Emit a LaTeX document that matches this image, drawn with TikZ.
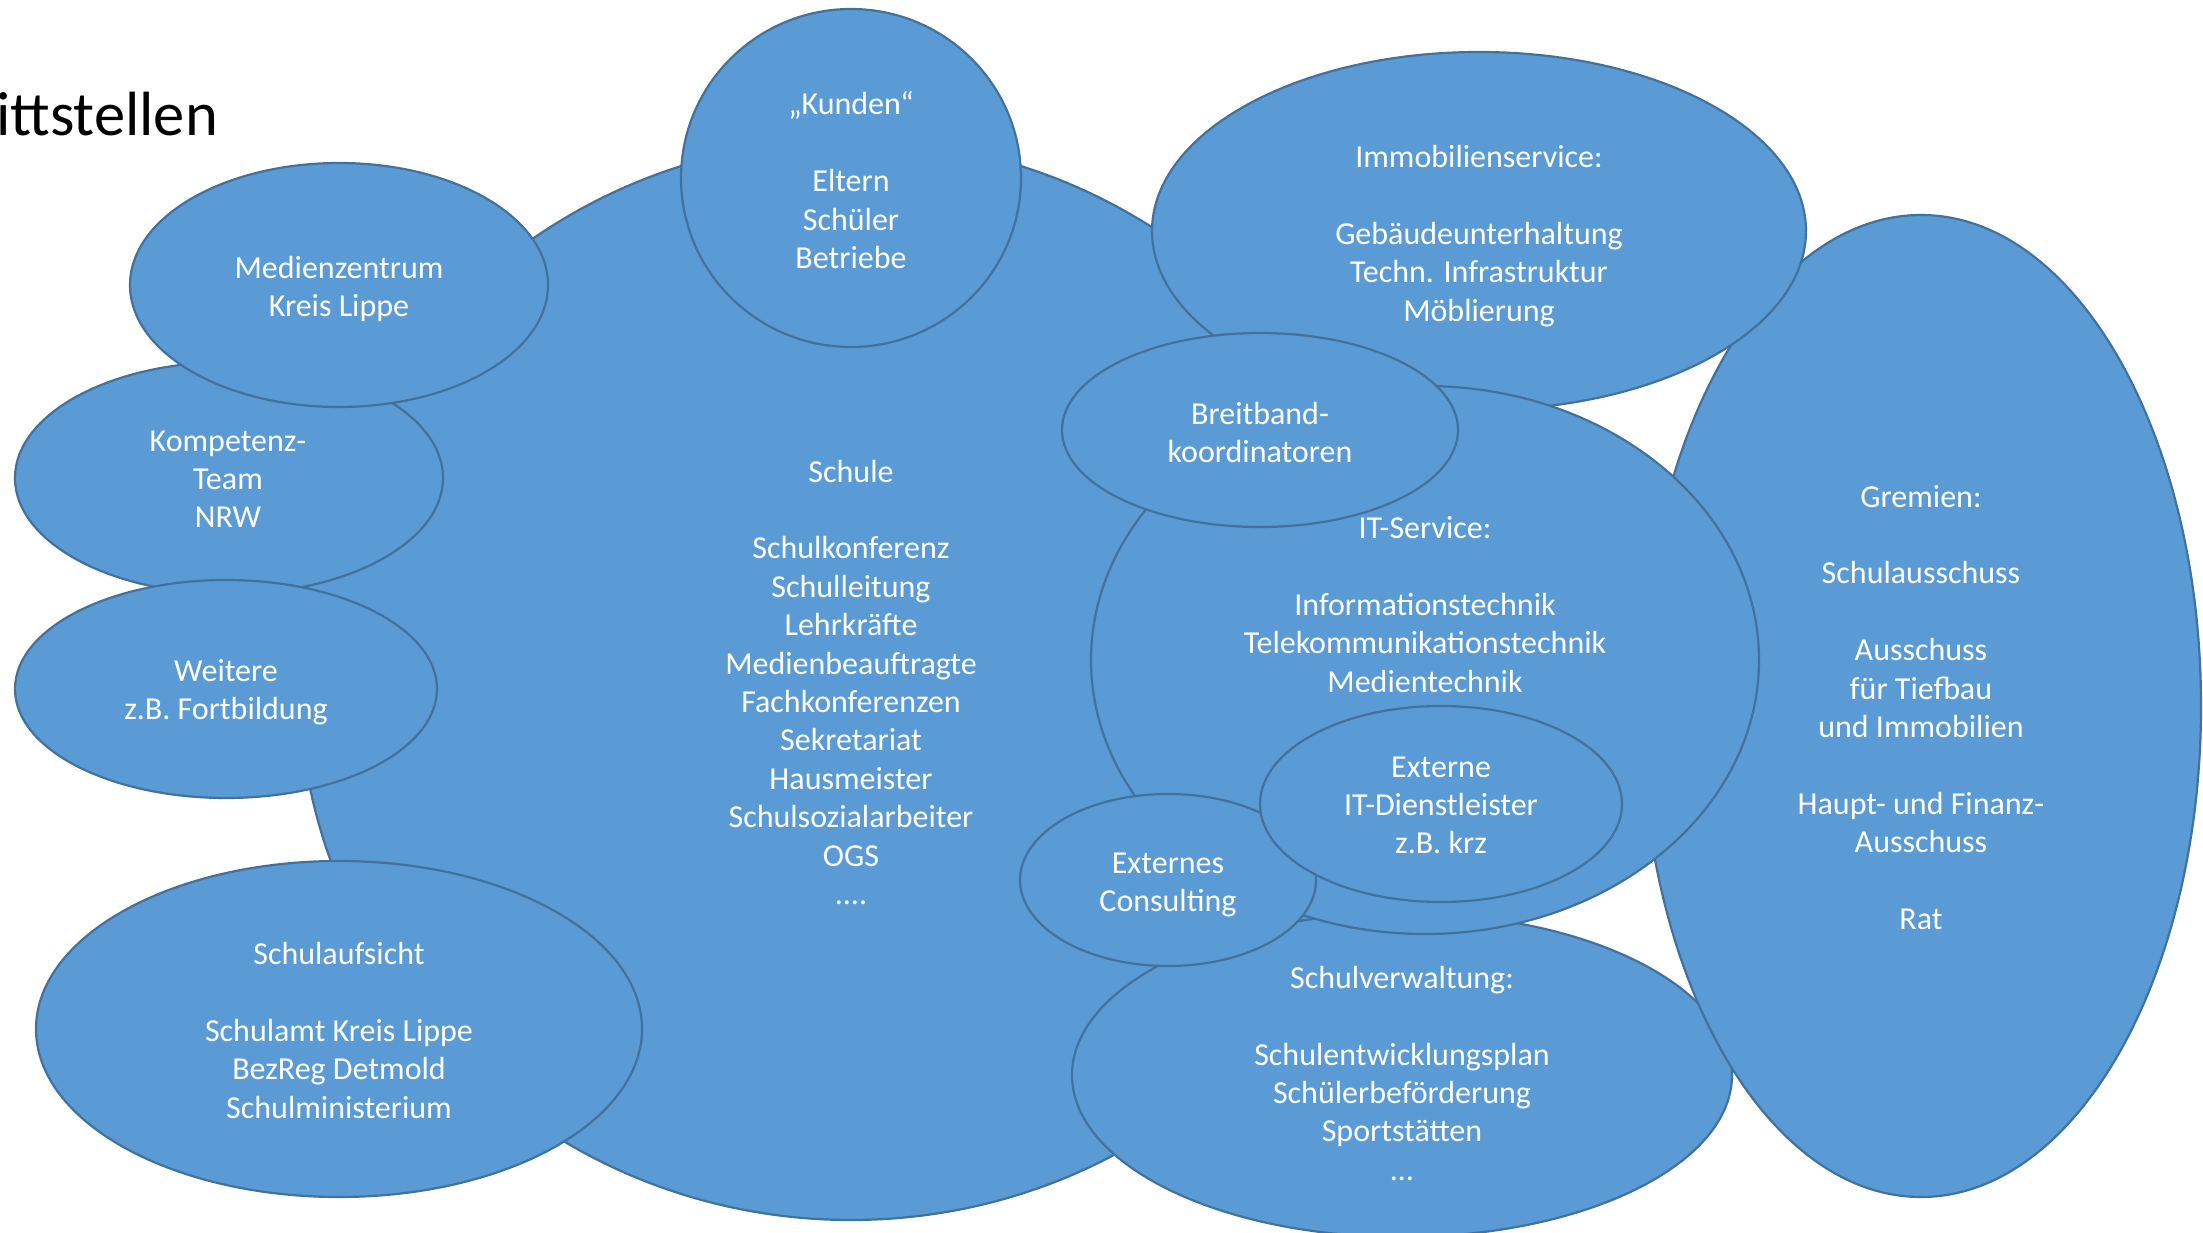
\documentclass[tikz,border=0pt]{standalone}
\usepackage{fontspec}
\setmainfont{Carlito}
\usetikzlibrary{shapes.geometric}
\definecolor{blobfill}{HTML}{5B9BD5}
\definecolor{blobline}{HTML}{41719C}
\begin{document}
\begin{tikzpicture}[x=1pt,y=-1pt,
  blob/.style={ellipse, draw=blobline, fill=blobfill, line width=2.2pt, inner sep=0pt},
  txt/.style={text=white, align=center, font=\fontsize{32}{38.4}\selectfont, inner sep=0pt,
    execute at begin node=\strut, execute at end node=\strut},
  titletxt/.style={text=black, font=\fontsize{62.5}{75}\selectfont, inner sep=0pt, anchor=base west}]
\useasboundingbox (0,0) rectangle (2203,1233);

\node[titletxt] (title) at (-4,136) {ittstellen};

% Schule
\node[blob, minimum width=1104pt, minimum height=1080pt] (schule) at (851,680) {};
\node[txt] (schule-t) at (851,688) {Schule\\[38.4pt]Schulkonferenz\\Schulleitung\\Lehrkräfte\\Medienbeauftragte\\Fachkonferenzen\\Sekretariat\\Hausmeister\\Schulsozialarbeiter\\OGS\\....};

% Schulverwaltung
\node[blob, minimum width=660pt, minimum height=324pt] (verwalt) at (1402,1075) {};
\node[txt] (verwalt-t) at (1402,1079) {Schulverwaltung:\\[38.4pt]Schulentwicklungsplan\\Schülerbeförderung\\Sportstätten\\…};

% Gremien
\node[blob, minimum width=560pt, minimum height=982pt] (gremien) at (1921,706) {};
\node[txt] (gremien-t) at (1921,713) {Gremien:\\[38.4pt]Schulausschuss\\[38.4pt]Ausschuss\\für Tiefbau\\und Immobilien\\[38.4pt]Haupt- und Finanz-\\Ausschuss\\[38.4pt]Rat};

% Kompetenz-Team
\node[blob, minimum width=428pt, minimum height=232pt] (kompetenz) at (229,478) {};
\node[txt] (kompetenz-t) at (228,485) {Kompetenz-\\Team\\NRW};

% Weitere
\node[blob, minimum width=422pt, minimum height=218pt] (weitere) at (226,689) {};
\node[txt] (weitere-t) at (226,695) {Weitere\\z.B. Fortbildung};

% Medienzentrum
\node[blob, minimum width=418pt, minimum height=244pt] (medien) at (339,285) {};
\node[txt] (medien-t) at (339,292) {Medienzentrum\\Kreis Lippe};

% Kunden
\node[blob, minimum width=340pt, minimum height=338pt] (kunden) at (851,178) {};
\node[txt] (kunden-t) at (851,186) {„Kunden“\\[38.4pt]Eltern\\Schüler\\Betriebe};

% Schulaufsicht
\node[blob, minimum width=606pt, minimum height=336pt] (aufsicht) at (339,1029) {};
\node[txt] (aufsicht-t) at (339,1036) {Schulaufsicht\\[38.4pt]Schulamt Kreis Lippe\\BezReg Detmold\\Schulministerium};

% Immobilienservice
\node[blob, minimum width=654pt, minimum height=358pt] (immo) at (1479,231) {};
\node[txt] (immo-t) at (1479,239) {Immobilienservice:\\[38.4pt]Gebäudeunterhaltung\\Techn. Infrastruktur\\Möblierung};

% IT-Service
\node[blob, minimum width=668pt, minimum height=548pt] (itservice) at (1425,660) {};
\node[txt] (itservice-t) at (1425,610) {IT-Service:\\[38.4pt]Informationstechnik\\Telekommunikationstechnik\\Medientechnik};

% Breitbandkoordinatoren
\node[blob, minimum width=396pt, minimum height=194pt] (breit) at (1260,430) {};
\node[txt] (breit-t) at (1260,438) {Breitband-\\koordinatoren};

% Externes Consulting
\node[blob, minimum width=296pt, minimum height=172pt] (consult) at (1168,880) {};
\node[txt] (consult-t) at (1168,888) {Externes\\Consulting};

% Externe IT-Dienstleister
\node[blob, minimum width=362pt, minimum height=196pt] (externe) at (1441,804) {};
\node[txt] (externe-t) at (1441,811) {Externe\\IT-Dienstleister\\z.B. krz};

\end{tikzpicture}
\end{document}
